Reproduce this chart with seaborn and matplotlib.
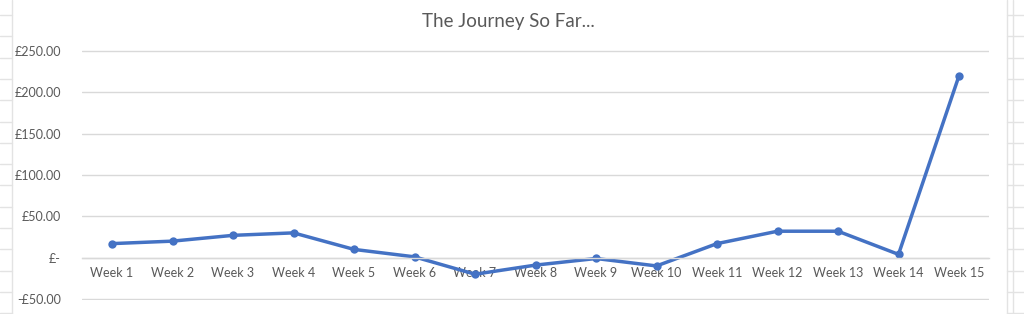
import matplotlib
matplotlib.use("Agg")
import matplotlib.pyplot as plt
from matplotlib.lines import Line2D
from matplotlib.ticker import FuncFormatter
import numpy as np
import pandas as pd
import seaborn as sns

weeks = [f"Week {i}" for i in range(1, 16)]
balance = [17, 20, 27, 30, 10, 1, -20, -9, -1, -10, 17, 32, 32, 4, 220]
y_ticks = [-50, 0, 50, 100, 150, 200, 250]
title = "The Journey So Far..."

df = pd.DataFrame({"week": weeks, "balance": balance})

sns.set_theme(style="white")
plt.rcParams["font.family"] = ["Lato", "DejaVu Sans"]

W, H = 1024, 314
fig = plt.figure(figsize=(W / 100, H / 100), dpi=100)
fig.patch.set_facecolor("white")

# Excel sheet cell grid visible around the chart
grid_c = "#E3E3E3"
for xv in (11.5, 1006.7, 1012.7):
    fig.add_artist(Line2D([xv / W, xv / W], [0, 1], transform=fig.transFigure,
                          color=grid_c, lw=1.0))
for yr in np.arange(15, 320, 21.3):
    yf = 1 - yr / H
    fig.add_artist(Line2D([0, 11.5 / W], [yf, yf], transform=fig.transFigure,
                          color=grid_c, lw=1.0))
    fig.add_artist(Line2D([1006.7 / W, 1], [yf, yf], transform=fig.transFigure,
                          color=grid_c, lw=1.0))

left, right = 81.75, 989.25
top, bottom = 50, 300
ax = fig.add_axes([left / W, 1 - bottom / H, (right - left) / W, (bottom - top) / H])
ax.set_facecolor("white")

sns.lineplot(data=df, x="week", y="balance", ax=ax, color="#4472C4",
             linewidth=2.5, marker="o", markersize=6, markeredgewidth=0,
             sort=False)

ax.set_xlim(-0.5, len(weeks) - 0.5)
ax.set_ylim(min(y_ticks) - 1.2, max(y_ticks) + 1.2)
ax.set_yticks(y_ticks)

def fmt(v, pos):
    if v == 0:
        return "£-"
    s = f"£{abs(v):,.2f}"
    return "-" + s if v < 0 else s

ax.yaxis.set_major_formatter(FuncFormatter(fmt))
ax.grid(axis="y", color="#D9D9D9", linewidth=1.0)
ax.grid(axis="x", visible=False)
for s in ("top", "right", "left"):
    ax.spines[s].set_visible(False)
ax.spines["bottom"].set_position(("data", 0))
ax.spines["bottom"].set_color("#D9D9D9")
ax.spines["bottom"].set_linewidth(1.0)
ax.set_axisbelow(True)

ax.tick_params(axis="both", length=0, labelsize=9, labelcolor="#595959")
ax.tick_params(axis="y", pad=15)
ax.tick_params(axis="x", pad=7)
ax.set_xlabel("")
ax.set_ylabel("")

fig.text(508 / W, 1 - 22 / H, title, ha="center", va="center",
         fontsize=13.5, color="#595959")

fig.savefig("out.png", dpi=100, facecolor="white")
